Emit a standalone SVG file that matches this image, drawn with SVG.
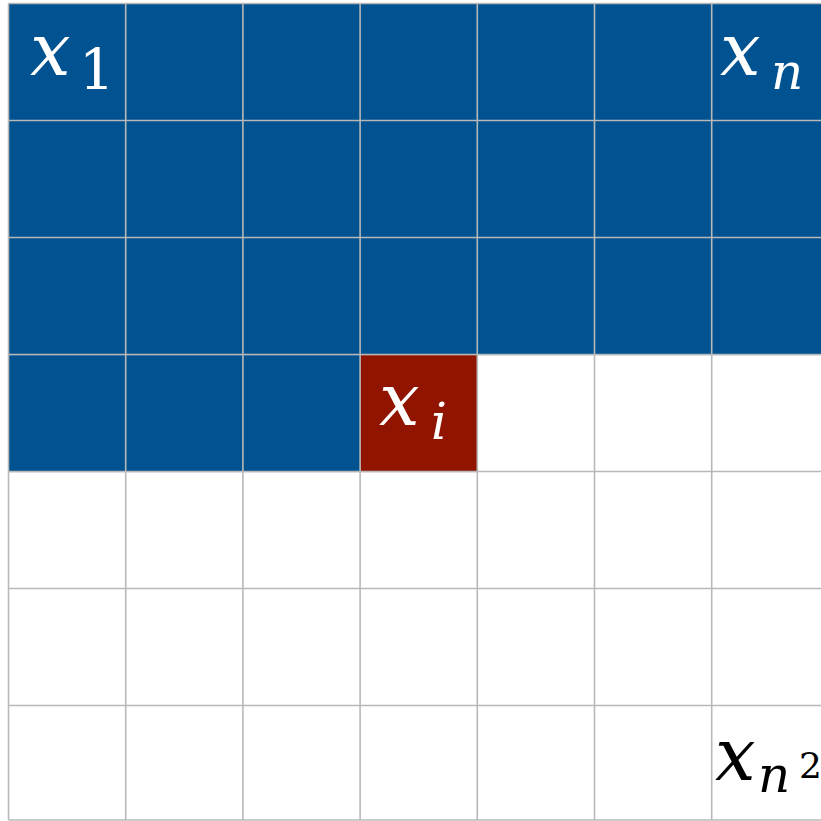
<svg xmlns="http://www.w3.org/2000/svg" width="821" height="821" viewBox="0 0 821 821">
<style>
.blue{fill:#005291}
.red{fill:#911400}
.grid line{stroke:#b8b8b8;stroke-width:1.6}
.m{font-family:"DejaVu Serif","Liberation Serif",serif;font-style:italic;font-size:72px}
.s{font-family:"DejaVu Serif","Liberation Serif",serif;font-size:56px}
.si{font-family:"DejaVu Serif","Liberation Serif",serif;font-style:italic;font-size:50px}
.w{fill:#ffffff}
.k{fill:#000000}
</style>
<rect width="821" height="821" fill="#ffffff"/>
<g id="filled">
<rect class="blue" x="8.5" y="3.5" width="820" height="351.6"/>
<rect class="blue" x="8.5" y="355.1" width="351.6" height="117"/>
</g>
<g id="current">
<rect class="red" x="360.1" y="355.1" width="117.2" height="117"/>
</g>
<g class="grid" id="grid">
<line x1="8.5" y1="3.5" x2="8.5" y2="820"/>
<line x1="125.7" y1="3.5" x2="125.7" y2="820"/>
<line x1="242.9" y1="3.5" x2="242.9" y2="820"/>
<line x1="360.1" y1="3.5" x2="360.1" y2="820"/>
<line x1="477.3" y1="3.5" x2="477.3" y2="820"/>
<line x1="594.5" y1="3.5" x2="594.5" y2="820"/>
<line x1="711.7" y1="3.5" x2="711.7" y2="820"/>
<line x1="8.5" y1="3.5" x2="821" y2="3.5"/>
<line x1="8.5" y1="120.5" x2="821" y2="120.5"/>
<line x1="8.5" y1="237.5" x2="821" y2="237.5"/>
<line x1="8.5" y1="354.5" x2="821" y2="354.5"/>
<line x1="8.5" y1="471.5" x2="821" y2="471.5"/>
<line x1="8.5" y1="588.5" x2="821" y2="588.5"/>
<line x1="8.5" y1="705.5" x2="821" y2="705.5"/>
<line x1="8.5" y1="820" x2="821" y2="820"/>
</g>
<g id="x1">
<text class="m w" x="30" y="75">x</text>
<text class="s w" x="79" y="89">1</text>
</g>
<g id="xn">
<text class="m w" x="720" y="75">x</text>
<text class="si w" x="771" y="89">n</text>
</g>
<g id="xi">
<text class="m w" x="379" y="425">x</text>
<text class="si w" x="431" y="439">i</text>
</g>
<g id="xn2">
<text class="m k" x="715" y="780">x</text>
<text class="si k" x="758" y="792">n</text>
<text class="s k" x="799" y="778" style="font-size:36px">2</text>
</g>
</svg>
